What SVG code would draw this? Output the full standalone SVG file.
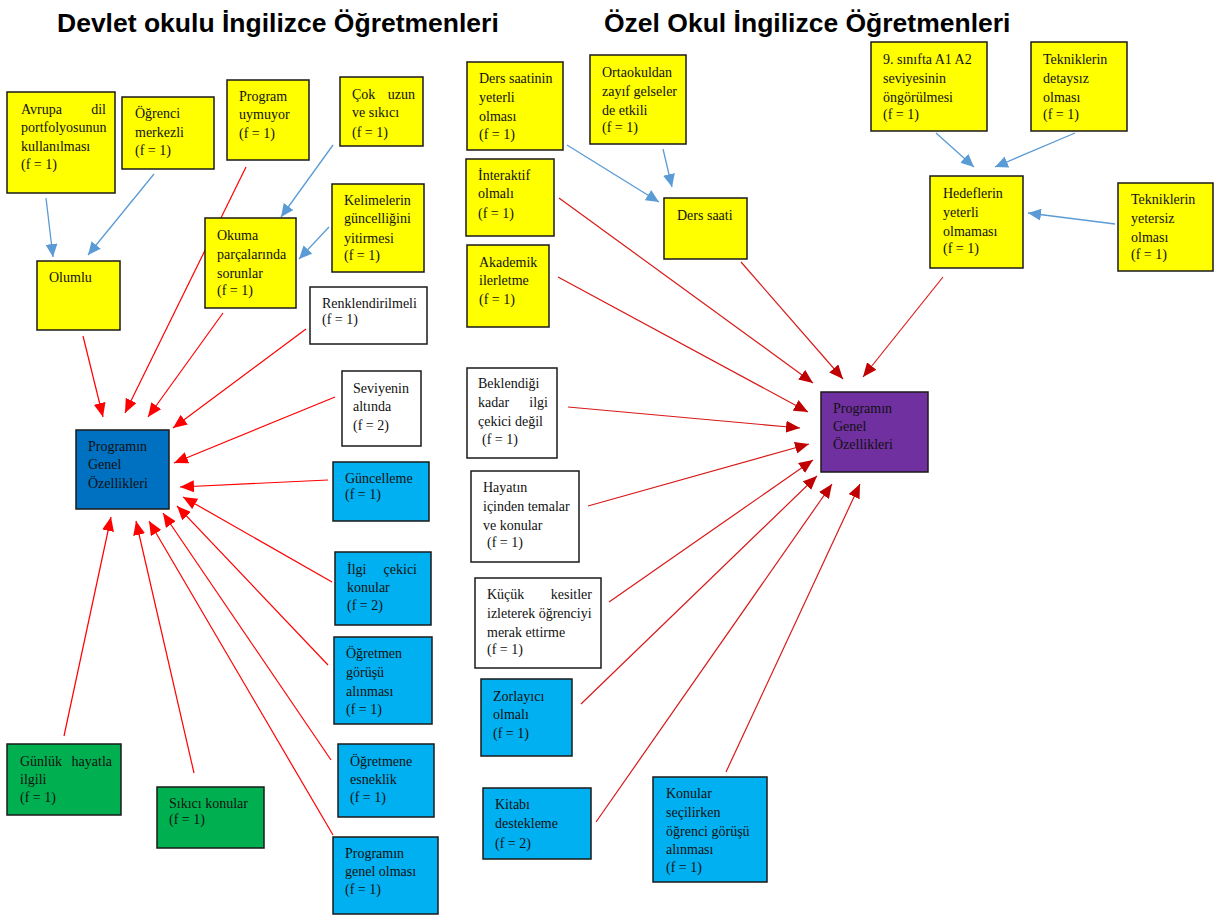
<svg xmlns="http://www.w3.org/2000/svg" width="1219" height="915" viewBox="0 0 1219 915">
  <style>
    .title { font-family: "Liberation Sans", Arial, sans-serif; font-weight: bold; font-size: 26.5px; fill: #000; }
    .box { stroke: #1a1a1a; stroke-width: 1.5; }
    .yellow { fill: #FFFF00; }
    .white { fill: #FFFFFF; }
    .cyan { fill: #00B0F0; }
    .green { fill: #00B050; }
    .navy { fill: #0070C0; }
    .purple { fill: #7030A0; }
    .lbl { font-family: "Liberation Serif", "Times New Roman", serif; font-size: 14px; fill: #111; }
    .end { text-anchor: end; }
    .blue-link { stroke: #5B9BD5; stroke-width: 1.3; fill: none; marker-end: url(#arrowBlue); }
    .red-link { stroke: #FF0000; stroke-width: 1.2; fill: none; marker-end: url(#arrowRed); }
    .dred-link { stroke: #D81818; stroke-width: 1.2; fill: none; marker-end: url(#arrowDarkRed); }
  </style>
  <defs>
    <marker id="arrowBlue" markerUnits="userSpaceOnUse" markerWidth="14" markerHeight="12" refX="13" refY="6" orient="auto">
      <path d="M0,0 L13,6 L0,12 Z" fill="#5B9BD5"/>
    </marker>
    <marker id="arrowRed" markerUnits="userSpaceOnUse" markerWidth="15" markerHeight="12" refX="14" refY="6" orient="auto">
      <path d="M0,0 L14,6 L0,12 Z" fill="#FF0000"/>
    </marker>
    <marker id="arrowDarkRed" markerUnits="userSpaceOnUse" markerWidth="15" markerHeight="12" refX="14" refY="6" orient="auto">
      <path d="M0,0 L14,6 L0,12 Z" fill="#C00000"/>
    </marker>
  </defs>

  <rect width="1219" height="915" fill="#FFFFFF"/>

  <text class="title" x="57" y="32">Devlet okulu İngilizce Öğretmenleri</text>
  <text class="title" x="604" y="32">Özel Okul İngilizce Öğretmenleri</text>

  <!-- connectors -->
  <g id="connectors">
    <!-- left side: feeders -->
    <line class="blue-link" x1="46" y1="198" x2="53" y2="257"/>
    <line class="blue-link" x1="154" y1="174" x2="88" y2="255"/>
    <line class="blue-link" x1="333" y1="145" x2="281" y2="217"/>
    <line class="blue-link" x1="329" y1="227" x2="299" y2="259"/>
    <!-- left side: into Programın Genel Özellikleri -->
    <line class="red-link" x1="83" y1="336" x2="103" y2="417"/>
    <line class="red-link" x1="246" y1="167" x2="125" y2="413"/>
    <line class="red-link" x1="223" y1="313" x2="148" y2="417"/>
    <line class="red-link" x1="306" y1="329" x2="173" y2="428"/>
    <line class="red-link" x1="335" y1="397" x2="174" y2="463"/>
    <line class="red-link" x1="328" y1="480" x2="180" y2="487"/>
    <line class="red-link" x1="332" y1="582" x2="183" y2="497"/>
    <line class="red-link" x1="328" y1="665" x2="177" y2="506"/>
    <line class="red-link" x1="331" y1="760" x2="163" y2="513"/>
    <line class="red-link" x1="333" y1="835" x2="149" y2="521"/>
    <line class="red-link" x1="194" y1="773" x2="136" y2="521"/>
    <line class="red-link" x1="64" y1="736" x2="111" y2="517"/>

    <!-- right side: feeders -->
    <line class="blue-link" x1="567" y1="145" x2="659" y2="202"/>
    <line class="blue-link" x1="663" y1="149" x2="672" y2="187"/>
    <line class="blue-link" x1="936" y1="133" x2="974" y2="167"/>
    <line class="blue-link" x1="1075" y1="133" x2="995" y2="167"/>
    <line class="blue-link" x1="1115" y1="224" x2="1028" y2="213"/>
    <!-- right side: into Programın Genel Özellikleri -->
    <line class="dred-link" x1="559" y1="198" x2="813" y2="383"/>
    <line class="dred-link" x1="558" y1="277" x2="808" y2="412"/>
    <line class="dred-link" x1="741" y1="262" x2="843" y2="379"/>
    <line class="dred-link" x1="943" y1="277" x2="863" y2="377"/>
    <line class="dred-link" x1="568" y1="407" x2="800" y2="428"/>
    <line class="dred-link" x1="588" y1="506" x2="809" y2="444"/>
    <line class="dred-link" x1="609" y1="602" x2="813" y2="460"/>
    <line class="dred-link" x1="581" y1="704" x2="817" y2="476"/>
    <line class="dred-link" x1="596" y1="822" x2="832" y2="484"/>
    <line class="dred-link" x1="726" y1="772" x2="860" y2="484"/>
  </g>

  <!-- left nodes -->
  <g id="avrupa">
    <rect class="box yellow" x="7" y="92" width="108" height="101"/>
    <text class="lbl" x="21" y="114">Avrupa</text><text class="lbl end" x="106" y="114">dil</text>
    <text class="lbl" x="21" y="132">portfolyosunun</text>
    <text class="lbl" x="21" y="151">kullanılması</text>
    <text class="lbl" x="21" y="169">(f = 1)</text>
  </g>
  <g id="ogrenci-merkezli">
    <rect class="box yellow" x="122" y="97" width="92" height="72"/>
    <text class="lbl" x="135" y="118">Öğrenci</text>
    <text class="lbl" x="135" y="137">merkezli</text>
    <text class="lbl" x="135" y="155">(f = 1)</text>
  </g>
  <g id="program-uymuyor">
    <rect class="box yellow" x="227" y="80" width="82" height="80"/>
    <text class="lbl" x="239" y="101">Program</text>
    <text class="lbl" x="239" y="119">uymuyor</text>
    <text class="lbl" x="239" y="138">(f = 1)</text>
  </g>
  <g id="cok-uzun">
    <rect class="box yellow" x="340" y="77" width="83" height="69"/>
    <text class="lbl" x="352" y="99">Çok</text><text class="lbl end" x="415" y="99">uzun</text>
    <text class="lbl" x="352" y="117">ve sıkıcı</text>
    <text class="lbl" x="352" y="137">(f = 1)</text>
  </g>
  <g id="kelimeler">
    <rect class="box yellow" x="332" y="184" width="92" height="88"/>
    <text class="lbl" x="344" y="205">Kelimelerin</text>
    <text class="lbl" x="344" y="223">güncelliğini</text>
    <text class="lbl" x="344" y="243">yitirmesi</text>
    <text class="lbl" x="344" y="260">(f = 1)</text>
  </g>
  <g id="okuma">
    <rect class="box yellow" x="205" y="218" width="91" height="90"/>
    <text class="lbl" x="217" y="240">Okuma</text>
    <text class="lbl" x="217" y="259">parçalarında</text>
    <text class="lbl" x="217" y="278">sorunlar</text>
    <text class="lbl" x="217" y="295">(f = 1)</text>
  </g>
  <g id="olumlu">
    <rect class="box yellow" x="37" y="261" width="83" height="69"/>
    <text class="lbl" x="49" y="282">Olumlu</text>
  </g>
  <g id="renklendirilmeli">
    <rect class="box white" x="310" y="287" width="117" height="57"/>
    <text class="lbl" x="322" y="308">Renklendirilmeli</text>
    <text class="lbl" x="322" y="324">(f = 1)</text>
  </g>
  <g id="seviye">
    <rect class="box white" x="342" y="371" width="79" height="75"/>
    <text class="lbl" x="353" y="393">Seviyenin</text>
    <text class="lbl" x="353" y="411">altında</text>
    <text class="lbl" x="353" y="430">(f = 2)</text>
  </g>
  <g id="devlet-genel">
    <rect class="box navy" x="76" y="430" width="93" height="79"/>
    <text class="lbl" x="88" y="451">Programın</text>
    <text class="lbl" x="88" y="469">Genel</text>
    <text class="lbl" x="88" y="488">Özellikleri</text>
  </g>
  <g id="guncelleme">
    <rect class="box cyan" x="333" y="462" width="96" height="59"/>
    <text class="lbl" x="345" y="483">Güncelleme</text>
    <text class="lbl" x="345" y="499">(f = 1)</text>
  </g>
  <g id="ilgi-cekici">
    <rect class="box cyan" x="335" y="552" width="96" height="73"/>
    <text class="lbl" x="347" y="574">İlgi</text><text class="lbl end" x="417" y="574">çekici</text>
    <text class="lbl" x="347" y="592">konular</text>
    <text class="lbl" x="347" y="610">(f = 2)</text>
  </g>
  <g id="ogretmen-gorusu">
    <rect class="box cyan" x="334" y="637" width="98" height="87"/>
    <text class="lbl" x="346" y="658">Öğretmen</text>
    <text class="lbl" x="346" y="677">görüşü</text>
    <text class="lbl" x="346" y="696">alınması</text>
    <text class="lbl" x="346" y="714">(f = 1)</text>
  </g>
  <g id="esneklik">
    <rect class="box cyan" x="338" y="744" width="96" height="73"/>
    <text class="lbl" x="350" y="766">Öğretmene</text>
    <text class="lbl" x="350" y="784">esneklik</text>
    <text class="lbl" x="350" y="802">(f = 1)</text>
  </g>
  <g id="genel-olmasi">
    <rect class="box cyan" x="333" y="837" width="105" height="77"/>
    <text class="lbl" x="345" y="858">Programın</text>
    <text class="lbl" x="345" y="876">genel olması</text>
    <text class="lbl" x="345" y="894">(f = 1)</text>
  </g>
  <g id="gunluk-hayat">
    <rect class="box green" x="7" y="744" width="114" height="71"/>
    <text class="lbl" x="20" y="766">Günlük</text><text class="lbl end" x="112" y="766">hayatla</text>
    <text class="lbl" x="20" y="784">ilgili</text>
    <text class="lbl" x="20" y="802">(f = 1)</text>
  </g>
  <g id="sikici-konular">
    <rect class="box green" x="157" y="787" width="107" height="61"/>
    <text class="lbl" x="169" y="808">Sıkıcı konular</text>
    <text class="lbl" x="169" y="824">(f = 1)</text>
  </g>

  <!-- right nodes -->
  <g id="ders-saatinin">
    <rect class="box yellow" x="467" y="62" width="96" height="88"/>
    <text class="lbl" x="479" y="83">Ders saatinin</text>
    <text class="lbl" x="479" y="102">yeterli</text>
    <text class="lbl" x="479" y="121">olması</text>
    <text class="lbl" x="479" y="139">(f = 1)</text>
  </g>
  <g id="ortaokul">
    <rect class="box yellow" x="590" y="55" width="96" height="89"/>
    <text class="lbl" x="602" y="77">Ortaokuldan</text>
    <text class="lbl" x="602" y="96">zayıf gelseler</text>
    <text class="lbl" x="602" y="115">de etkili</text>
    <text class="lbl" x="602" y="132">(f = 1)</text>
  </g>
  <g id="interaktif">
    <rect class="box yellow" x="466" y="159" width="88" height="77"/>
    <text class="lbl" x="478" y="180">İnteraktif</text>
    <text class="lbl" x="478" y="198">olmalı</text>
    <text class="lbl" x="478" y="218">(f = 1)</text>
  </g>
  <g id="akademik">
    <rect class="box yellow" x="467" y="245" width="82" height="82"/>
    <text class="lbl" x="479" y="267">Akademik</text>
    <text class="lbl" x="479" y="285">ilerletme</text>
    <text class="lbl" x="479" y="304">(f = 1)</text>
  </g>
  <g id="ders-saati">
    <rect class="box yellow" x="664" y="198" width="83" height="61"/>
    <text class="lbl" x="677" y="220">Ders saati</text>
  </g>
  <g id="sinif9">
    <rect class="box yellow" x="871" y="42" width="116" height="89"/>
    <text class="lbl" x="883" y="64">9. sınıfta A1 A2</text>
    <text class="lbl" x="883" y="83">seviyesinin</text>
    <text class="lbl" x="883" y="102">öngörülmesi</text>
    <text class="lbl" x="883" y="119">(f = 1)</text>
  </g>
  <g id="detaysiz">
    <rect class="box yellow" x="1031" y="42" width="96" height="89"/>
    <text class="lbl" x="1043" y="64">Tekniklerin</text>
    <text class="lbl" x="1043" y="83">detaysız</text>
    <text class="lbl" x="1043" y="102">olması</text>
    <text class="lbl" x="1043" y="119">(f = 1)</text>
  </g>
  <g id="hedefler">
    <rect class="box yellow" x="930" y="176" width="93" height="92"/>
    <text class="lbl" x="943" y="198">Hedeflerin</text>
    <text class="lbl" x="943" y="217">yeterli</text>
    <text class="lbl" x="943" y="236">olmaması</text>
    <text class="lbl" x="943" y="253">(f = 1)</text>
  </g>
  <g id="yetersiz">
    <rect class="box yellow" x="1118" y="183" width="95" height="88"/>
    <text class="lbl" x="1131" y="204">Tekniklerin</text>
    <text class="lbl" x="1131" y="223">yetersiz</text>
    <text class="lbl" x="1131" y="242">olması</text>
    <text class="lbl" x="1131" y="259">(f = 1)</text>
  </g>
  <g id="beklendigi">
    <rect class="box white" x="467" y="368" width="90" height="90"/>
    <text class="lbl" x="478" y="388">Beklendiği</text>
    <text class="lbl" x="478" y="407">kadar</text><text class="lbl end" x="548" y="407">ilgi</text>
    <text class="lbl" x="478" y="426">çekici değil</text>
    <text class="lbl" x="482" y="444">(f = 1)</text>
  </g>
  <g id="hayatin">
    <rect class="box white" x="471" y="471" width="108" height="91"/>
    <text class="lbl" x="483" y="492">Hayatın</text>
    <text class="lbl" x="483" y="511">içinden temalar</text>
    <text class="lbl" x="483" y="530">ve konular</text>
    <text class="lbl" x="487" y="547">(f = 1)</text>
  </g>
  <g id="kucuk-kesitler">
    <rect class="box white" x="475" y="578" width="126" height="90"/>
    <text class="lbl" x="487" y="599">Küçük</text><text class="lbl end" x="592" y="599">kesitler</text>
    <text class="lbl" x="487" y="618">izleterek öğrenciyi</text>
    <text class="lbl" x="487" y="637">merak ettirme</text>
    <text class="lbl" x="487" y="654">(f = 1)</text>
  </g>
  <g id="ozel-genel">
    <rect class="box purple" x="821" y="392" width="107" height="80"/>
    <text class="lbl" x="833" y="413">Programın</text>
    <text class="lbl" x="833" y="431">Genel</text>
    <text class="lbl" x="833" y="449">Özellikleri</text>
  </g>
  <g id="zorlayici">
    <rect class="box cyan" x="481" y="679" width="91" height="77"/>
    <text class="lbl" x="493" y="701">Zorlayıcı</text>
    <text class="lbl" x="493" y="719">olmalı</text>
    <text class="lbl" x="493" y="738">(f = 1)</text>
  </g>
  <g id="kitabi">
    <rect class="box cyan" x="483" y="788" width="108" height="71"/>
    <text class="lbl" x="495" y="809">Kitabı</text>
    <text class="lbl" x="495" y="828">destekleme</text>
    <text class="lbl" x="495" y="848">(f = 2)</text>
  </g>
  <g id="konular-secilirken">
    <rect class="box cyan" x="653" y="777" width="114" height="105"/>
    <text class="lbl" x="666" y="798">Konular</text>
    <text class="lbl" x="666" y="817">seçilirken</text>
    <text class="lbl" x="666" y="836">öğrenci  görüşü</text>
    <text class="lbl" x="666" y="854">alınması</text>
    <text class="lbl" x="666" y="872">(f = 1)</text>
  </g>
</svg>
